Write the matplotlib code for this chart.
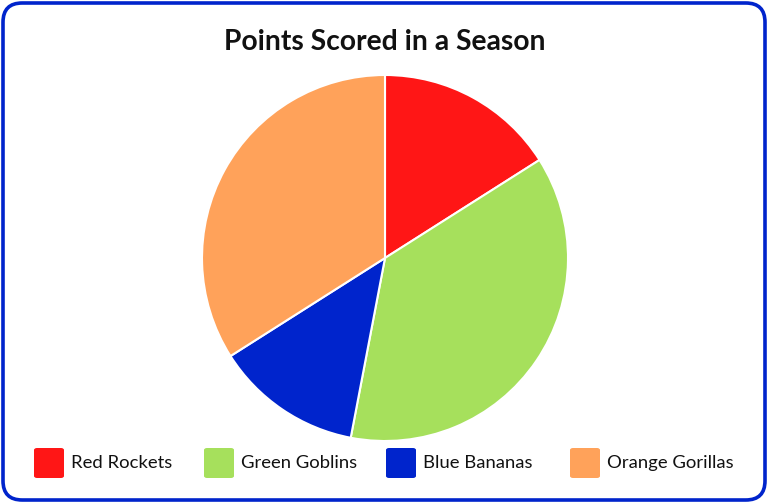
import matplotlib
matplotlib.use("Agg")
import matplotlib.pyplot as plt
from matplotlib.patches import FancyBboxPatch

categories = ["Red Rockets", "Green Goblins", "Blue Bananas", "Orange Gorillas"]
values = [16, 37, 13, 34]
colors = ["#FF1616", "#A6E05C", "#0024CC", "#FFA25A"]
title = "Points Scored in a Season"

plt.rcParams['font.family'] = ['Lato', 'DejaVu Sans']

W, H = 768, 503
fig = plt.figure(figsize=(W / 100, H / 100), dpi=100)

# rounded border
border = FancyBboxPatch((3 / W, 3 / H), (W - 6) / W, (H - 6) / H,
                        boxstyle="round,pad=0,rounding_size=0.025",
                        transform=fig.transFigure, fill=False,
                        edgecolor="#0024CC", linewidth=2.6, mutation_aspect=W / H)
fig.patches.append(border)

fig.text(385 / W, 1 - 42 / H, title, ha="center", va="center",
         fontsize=20.3, fontweight="bold", color="#111111")

r = 183
cx, cy = 385, 258
ax = fig.add_axes([(cx - r) / W, 1 - (cy + r) / H, 2 * r / W, 2 * r / H])
ax.pie(values, colors=colors, startangle=90, counterclock=False,
       wedgeprops=dict(edgecolor="white", linewidth=1.5))
ax.set_aspect("equal")
ax.set_xlim(-1, 1)
ax.set_ylim(-1, 1)
ax.axis("off")

xs = [34, 204, 386, 570]
ly = 463
for x, c, lab in zip(xs, colors, categories):
    sq = FancyBboxPatch((x / W, 1 - (ly + 15) / H), 30 / W, 30 / H,
                        boxstyle="round,pad=0,rounding_size=0.004",
                        transform=fig.transFigure, facecolor=c, edgecolor="none")
    fig.patches.append(sq)
    fig.text((x + 37) / W, 1 - ly / H, lab, ha="left", va="center",
             fontsize=13.3, color="#111111")

fig.savefig("out.png", dpi=100)
